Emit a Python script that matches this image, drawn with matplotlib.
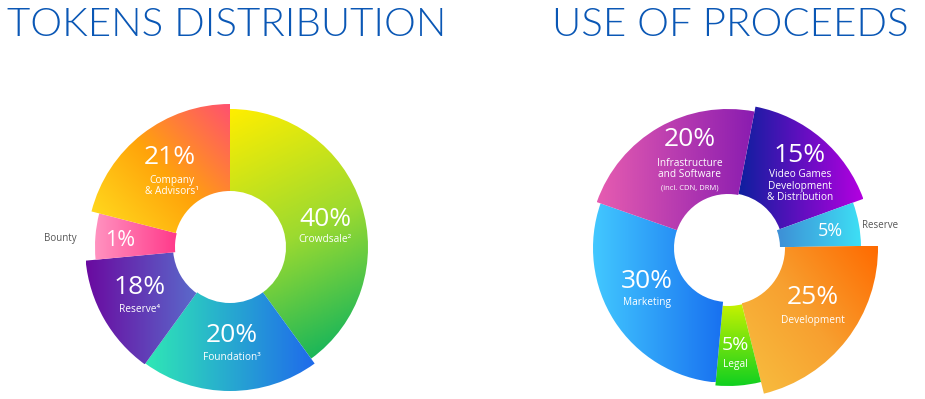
import numpy as np
import matplotlib
matplotlib.use("Agg")
from matplotlib import pyplot as plt
from matplotlib.patches import Wedge
from matplotlib.colors import LinearSegmentedColormap

FONT = ['Open Sans', 'DejaVu Sans']

# Tokens distribution (clockwise from top)
tok_names = ["Crowdsale²", "Foundation³", "Reserve⁴", "", "Company\n& Advisors¹"]
tok_pct = [40, 20, 18, 1, 21]
# drawn arc share (%) as it appears in the graphic
tok_arc = [40, 20, 13.5, 5.5, 21]
tok_outer = [138, 144, 145, 135, 143]
tok_inner = [56, 56, 57, 55, 56]
tok_colors = [["#FFEE00", "#9CDA30", "#00AF62"],
              ["#2FE8B5", "#1F6AEB"],
              ["#6A0AA0", "#5A6ACB"],
              ["#FF92C0", "#FF3A8A"],
              ["#FFE020", "#FFA40A", "#FF5070"]]
tok_grad = [-75, 0, 0, 0, 40]

# Use of proceeds (clockwise from top)
use_names = ["Video Games\nDevelopment\n& Distribution", "", "Development", "Legal",
             "Marketing", "Infrastructure\nand Software"]
use_pct = [15, 5, 25, 5, 30, 20]
use_arc = [16.4, 5.3, 21.4, 5.3, 28.9, 22.7]
use_outer = [144, 133, 150, 138, 135, 139]
use_inner = [55, 52, 57, 58, 54, 54]
use_colors = [["#0D1F9E", "#B300E0"],
              ["#3E8FD6", "#3DE0F5"],
              ["#F8C040", "#F7A030", "#FF6A00"],
              ["#C6F200", "#10D020"],
              ["#42C8FF", "#1870F0"],
              ["#E65CB0", "#8A1CB0"]]
use_grad = [0, 0, 40, -90, 0, 0]


def grad_wedge(ax, center, r_in, r_out, a1, a2, colors, direction):
    w = Wedge(center, r_out, a1, a2, width=r_out - r_in,
              facecolor='none', edgecolor='none')
    ax.add_patch(w)
    ext = w.get_path().get_extents()
    n = 200
    xx, yy = np.meshgrid(np.linspace(0, 1, n), np.linspace(0, 1, n))
    th = np.radians(direction)
    t = np.cos(th) * xx + np.sin(th) * yy
    t = (t - t.min()) / (t.max() - t.min())
    cmap = LinearSegmentedColormap.from_list('g', colors)
    im = ax.imshow(t, cmap=cmap, origin='lower', aspect='auto',
                   extent=[ext.x0, ext.x1, ext.y0, ext.y1],
                   interpolation='bilinear', zorder=2)
    im.set_clip_path(w)


def donut(ax, center, arcs, outer, inner, colors, grads, start=90):
    a = start
    for i in range(len(arcs)):
        span = arcs[i] * 3.6
        grad_wedge(ax, center, inner[i], outer[i], a - span, a, colors[i], grads[i])
        a -= span


fig = plt.figure(figsize=(9.25, 3.99), dpi=100)
ax = fig.add_axes([0, 0, 1, 1])
H = 399

def P(x, y):
    return x, H - y

donut(ax, P(230, 247), tok_arc, tok_outer, tok_inner, tok_colors, tok_grad)
donut(ax, P(728, 248), use_arc, use_outer, use_inner, use_colors, use_grad, start=79)

title_kw = dict(color="#0A57B5", fontsize=29, family=['Lato', 'DejaVu Sans'],
                fontweight=300, va='baseline')
ax.text(*P(7, 36), "TOKENS DISTRIBUTION", ha='left', **title_kw)
ax.text(*P(909, 36), "USE OF PROCEEDS", ha='right', **title_kw)

big = dict(color='white', fontsize=19, family=FONT, ha='center', va='center', zorder=5)
small = dict(color='white', fontsize=7.3, family=FONT, ha='center', va='center',
             zorder=5, linespacing=1.05)

# tokens labels
ax.text(*P(325, 219), f"{tok_pct[0]}%", **big)
ax.text(*P(325, 240), tok_names[0], **small)
ax.text(*P(232, 336), f"{tok_pct[1]}%", **big)
ax.text(*P(232, 357), tok_names[1], **small)
ax.text(*P(140, 288), f"{tok_pct[2]}%", **big)
ax.text(*P(140, 309), tok_names[2], **small)
ax.text(*P(120, 240), f"{tok_pct[3]}%", **dict(big, fontsize=15.5))
ax.text(*P(170, 158), f"{tok_pct[4]}%", **big)
ax.text(*P(172, 186), tok_names[4], **small)
ax.text(*P(60, 239), "Bounty", color="#555555", fontsize=7, family=FONT,
        ha='center', va='center')

# proceeds labels
ax.text(*P(800, 156), f"{use_pct[0]}%", **big)
ax.text(*P(800, 186), use_names[0], **small)
ax.text(*P(830, 231), f"{use_pct[1]}%", **dict(big, fontsize=13))
ax.text(*P(880, 225), "Reserve", color="#555555", fontsize=7, family=FONT,
        ha='center', va='center')
ax.text(*P(813, 297), f"{use_pct[2]}%", **big)
ax.text(*P(813, 320), use_names[2], **small)
ax.text(*P(735, 345), f"{use_pct[3]}%", **dict(big, fontsize=14))
ax.text(*P(735, 365), use_names[3], **small)
ax.text(*P(647, 281), f"{use_pct[4]}%", **big)
ax.text(*P(647, 303), use_names[4], **small)
ax.text(*P(690, 140), f"{use_pct[5]}%", **big)
ax.text(*P(690, 169), use_names[5], **small)
ax.text(*P(690, 188), "(incl. CDN, DRM)", **dict(small, fontsize=5.5))

ax.set_xlim(0, 925)
ax.set_ylim(0, H)
ax.axis('off')
fig.savefig("out.png", dpi=100)
